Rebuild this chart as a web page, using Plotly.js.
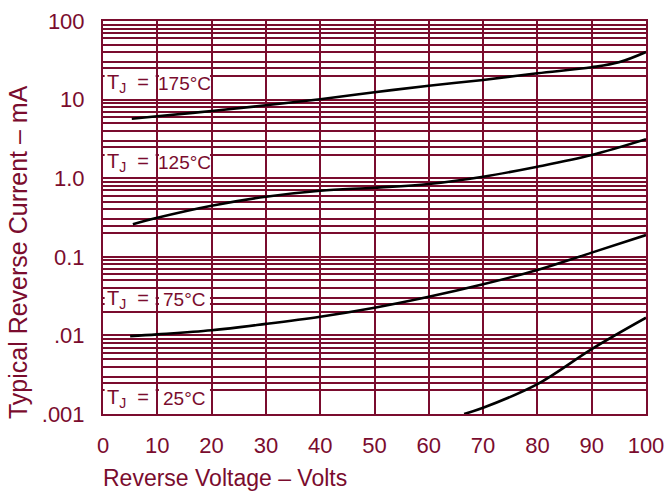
<!DOCTYPE html>
<html><head><meta charset="utf-8">
<script src="https://cdn.plot.ly/plotly-3.0.1.min.js"></script>
<style>html,body{margin:0;padding:0;background:#fff}#chart{width:667px;height:495px}</style>
</head><body><div id="chart"></div>
<script>
// Reverse voltage (V) vs typical reverse current (mA) for each junction temperature
const voltage175 = [5.3, 10, 20, 30, 40, 50, 60, 70, 80, 90, 95, 100];
const current175 = [5.71, 6.13, 7.16, 8.46, 10.1, 12.4, 15.0, 17.8, 21.6, 25.8, 29.8, 40.3];
const voltage125 = [5.5, 10, 20, 30, 40, 50, 60, 70, 80, 90, 100];
const current125 = [0.259, 0.314, 0.447, 0.582, 0.693, 0.757, 0.844, 1.045, 1.40, 1.97, 3.13];
const voltage75 = [5, 10, 20, 30, 40, 50, 60, 70, 80, 90, 100];
const current75 = [0.0098, 0.0103, 0.0116, 0.0140, 0.0173, 0.0225, 0.0310, 0.0447, 0.0679, 0.113, 0.189];
const voltage25 = [66.5, 70, 80, 90, 100];
const current25 = [0.001, 0.0012, 0.0024, 0.0067, 0.0168];

const tempLabels = ['175', '125', '75', '25'];
const labelTop = [25, 2.5, 0.04, 0.0025];
const labelBottom = [10, 1, 0.02, 0.001];

const xRange = [0, 100];
const yRangeLog = [-3, 2];
const xTickVals = [0, 10, 20, 30, 40, 50, 60, 70, 80, 90, 100];
const yTickVals = [0.001, 0.01, 0.1, 1, 10, 100];
const yTickText = ['.001', '.01', '0.1', '1.0', '10', '100'];
const minorDigits = [2, 2.5, 3, 4, 5, 6, 7, 8, 9];
const decades = [0.001, 0.01, 0.1, 1, 10];

const maroon = '#7a0c2e';
const fontFam = 'Liberation Sans, Arial, sans-serif';

const minorVals = [];
decades.forEach(d => minorDigits.forEach(m => minorVals.push(d * m)));

// white backgrounds behind the temperature labels (cover the horizontal grid in 0-20 V)
const shapes = [];
const dx = 0.3, f = Math.pow(10, 1.3 / 78.6);
labelTop.forEach((top, i) => {
  const y0 = labelBottom[i] * f, y1 = top / f;
  [[0.3, 10 - dx], [10 + dx, 20 - dx]].forEach(([a, b]) => {
    shapes.push({type: 'rect', xref: 'x', yref: 'y', x0: a, x1: b, y0: y0, y1: y1,
      fillcolor: '#ffffff', line: {width: 0}, layer: 'between'});
  });
});

const curve = (x, y) => ({x, y, mode: 'lines', line: {color: '#000', width: 2.6, shape: 'spline', smoothing: 1},
  hoverinfo: 'skip', showlegend: false});
const traces = [
  curve(voltage175, current175),
  curve(voltage125, current125),
  curve(voltage75, current75),
  curve(voltage25, current25)
];

// label positions converted to paper fractions from axis values
const px = v => (v - xRange[0]) / (xRange[1] - xRange[0]);
const py = v => (Math.log10(v) - yRangeLog[0]) / (yRangeLog[1] - yRangeLog[0]);
const annotations = [];
tempLabels.forEach((t, i) => {
  const yc = (py(labelTop[i]) + py(labelBottom[i])) / 2;
  annotations.push({x: px(4.6), y: yc, xref: 'paper', yref: 'paper', text: 'T<sub>J</sub>  =', showarrow: false,
    font: {family: fontFam, size: 20, color: maroon}, xanchor: 'center', yanchor: 'middle'});
  annotations.push({x: px(15), y: yc, xref: 'paper', yref: 'paper', text: t + '°C', showarrow: false,
    font: {family: fontFam, size: 19, color: maroon}, xanchor: 'center', yanchor: 'middle'});
});
annotations.push({xref: 'paper', yref: 'paper', x: -0.1565, y: 0.412, text: 'Typical Reverse Current – mA',
  textangle: -90, showarrow: false, xanchor: 'center', yanchor: 'middle',
  font: {family: fontFam, size: 25, color: maroon}});
annotations.push({xref: 'paper', yref: 'paper', x: -0.004, y: -0.163, text: 'Reverse Voltage – Volts',
  showarrow: false, xanchor: 'left', yanchor: 'middle',
  font: {family: fontFam, size: 23, color: maroon}});

const layout = {
  width: 667, height: 495,
  margin: {l: 103, r: 21, t: 21, b: 81},
  paper_bgcolor: '#fff', plot_bgcolor: '#fff',
  showlegend: false,
  xaxis: {range: xRange, tickvals: xTickVals, showgrid: true, gridcolor: maroon, gridwidth: 2,
    zeroline: false, showline: true, mirror: true, linecolor: maroon, linewidth: 2,
    ticks: 'outside', ticklen: 11, tickcolor: 'rgba(0,0,0,0)',
    tickfont: {family: fontFam, size: 22, color: maroon}},
  yaxis: {type: 'log', range: yRangeLog, tickvals: yTickVals, ticktext: yTickText,
    showgrid: true, gridcolor: maroon, gridwidth: 2, zeroline: false,
    showline: true, mirror: true, linecolor: maroon, linewidth: 2,
    ticks: 'outside', ticklen: 12, tickcolor: 'rgba(0,0,0,0)',
    tickfont: {family: fontFam, size: 22, color: maroon},
    minor: {tickmode: 'array', tickvals: minorVals, showgrid: true, gridcolor: maroon, gridwidth: 2, ticks: ''}},
  shapes,
  annotations
};
Plotly.newPlot('chart', traces, layout, {displayModeBar: false, staticPlot: true});
</script></body></html>
